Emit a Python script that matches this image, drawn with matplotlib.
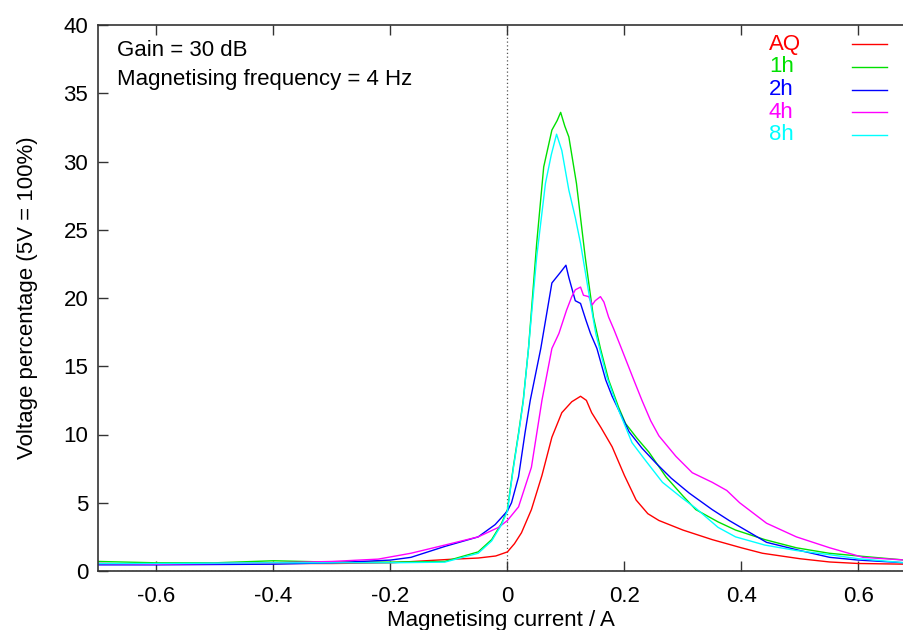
import matplotlib.pyplot as plt

# (magnetising current in A, voltage in %)
aq_x = [-0.70, -0.6, -0.4, -0.3, -0.2, -0.1, -0.05, -0.02, 0.0, 0.012, 0.024, 0.041,
        0.059, 0.076, 0.093, 0.11, 0.125, 0.135, 0.144, 0.16, 0.179, 0.2, 0.22, 0.24,
        0.259, 0.3, 0.35, 0.4, 0.436, 0.5, 0.551, 0.6, 0.68]
aq_y = [0.55, 0.5, 0.55, 0.55, 0.6, 0.85, 0.95, 1.1, 1.4, 2.0, 2.8, 4.5,
        7.0, 9.8, 11.6, 12.4, 12.8, 12.5, 11.6, 10.5, 9.1, 7.0, 5.2, 4.2,
        3.7, 3.0, 2.3, 1.7, 1.3, 0.9, 0.66, 0.55, 0.5]

h1_x = [-0.7, -0.6, -0.5, -0.4, -0.3, -0.2, -0.107, -0.05, -0.027, -0.01, 0.0, 0.01,
        0.019, 0.027, 0.036, 0.05, 0.062, 0.076, 0.085, 0.091, 0.098, 0.105, 0.118,
        0.133, 0.147, 0.159, 0.173, 0.19, 0.202, 0.222, 0.242, 0.271, 0.3, 0.322,
        0.36, 0.39, 0.44, 0.494, 0.55, 0.6, 0.68]
h1_y = [0.7, 0.6, 0.6, 0.75, 0.65, 0.65, 0.7, 1.4, 2.3, 3.5, 4.5, 7.6,
        10.1, 12.5, 16.3, 24.0, 29.6, 32.3, 33.0, 33.6, 32.6, 31.8, 28.4,
        23.0, 18.6, 16.3, 14.0, 12.0, 10.8, 9.7, 8.7, 6.9, 5.5, 4.5,
        3.6, 3.0, 2.3, 1.7, 1.3, 1.1, 0.8]

h2_x = [-0.7, -0.6, -0.4, -0.3, -0.2, -0.165, -0.107, -0.05, -0.021, 0.0, 0.007, 0.019,
        0.03, 0.039, 0.057, 0.076, 0.091, 0.1, 0.105, 0.116, 0.125, 0.134, 0.142,
        0.153, 0.168, 0.179, 0.208, 0.23, 0.254, 0.28, 0.311, 0.35, 0.379, 0.443,
        0.5, 0.551, 0.6, 0.68]
h2_y = [0.45, 0.45, 0.5, 0.6, 0.8, 1.0, 1.8, 2.5, 3.4, 4.4, 5.0, 6.9,
        10.1, 12.5, 16.3, 21.1, 21.9, 22.4, 21.5, 19.8, 19.6, 18.4, 17.4,
        16.3, 14.0, 12.8, 10.2, 9.0, 7.9, 6.8, 5.7, 4.5, 3.7, 2.1,
        1.5, 1.0, 0.8, 0.6]

h4_x = [-0.7, -0.6, -0.4, -0.3, -0.221, -0.165, -0.107, -0.05, -0.015, 0.0, 0.019, 0.041,
        0.059, 0.076, 0.088, 0.101, 0.11, 0.116, 0.125, 0.13, 0.139, 0.145, 0.15,
        0.159, 0.165, 0.173, 0.182, 0.194, 0.216, 0.23, 0.245, 0.259, 0.288, 0.316,
        0.35, 0.375, 0.397, 0.443, 0.494, 0.551, 0.608, 0.68]
h4_y = [0.55, 0.5, 0.6, 0.7, 0.87, 1.3, 1.9, 2.5, 3.2, 3.7, 4.7, 7.6,
        12.5, 16.3, 17.4, 19.1, 20.1, 20.6, 20.8, 20.2, 20.1, 19.5, 19.8,
        20.1, 19.7, 18.6, 17.7, 16.4, 14.0, 12.5, 11.0, 9.9, 8.4, 7.2,
        6.5, 5.9, 5.0, 3.5, 2.5, 1.7, 1.0, 0.8]

h8_x = [-0.7, -0.6, -0.4, -0.2, -0.107, -0.05, -0.027, -0.01, 0.0, 0.01, 0.019, 0.027,
        0.036, 0.05, 0.065, 0.075, 0.084, 0.093, 0.105, 0.116, 0.125, 0.139, 0.151,
        0.17, 0.19, 0.213, 0.236, 0.265, 0.3, 0.322, 0.36, 0.39, 0.44, 0.494,
        0.55, 0.6, 0.68]
h8_y = [0.55, 0.55, 0.6, 0.6, 0.65, 1.3, 2.2, 3.4, 4.4, 7.5, 10.0, 12.4,
        16.3, 23.0, 28.4, 30.5, 32.0, 30.8, 27.9, 25.9, 24.0, 20.4, 17.4,
        14.2, 11.8, 9.4, 8.1, 6.5, 5.3, 4.6, 3.2, 2.5, 1.9, 1.5,
        1.2, 0.9, 0.6]

labels = ["AQ", "1h", "2h", "4h", "8h"]
colors = ["#ff0000", "#00e000", "#0000ff", "#ff00ff", "#00ffff"]

plt.rcParams["font.family"] = ["Liberation Sans", "DejaVu Sans"]
fs = 16

fig = plt.figure(figsize=(9.04, 6.30), dpi=100)
ax = fig.add_axes([98 / 904, 59 / 630, 806 / 904, 546 / 630])

series = [(aq_x, aq_y), (h1_x, h1_y), (h2_x, h2_y), (h4_x, h4_y), (h8_x, h8_y)]
for (xs, ys), col in zip(series, colors):
    ax.plot(xs, ys, color=col, lw=1.0)

# zero axes, gnuplot style
ax.axvline(0, color="#555555", lw=0.9, ls=(0, (1, 2)), zorder=0)
ax.axhline(0, color="#555555", lw=0.9, ls=(0, (1, 2)), zorder=0)

ax.set_xlim(-0.7, 0.678)
ax.set_ylim(0, 40)
ax.set_xticks([-0.6, -0.4, -0.2, 0, 0.2, 0.4, 0.6])
ax.set_xticklabels(["-0.6", "-0.4", "-0.2", "0", "0.2", "0.4", "0.6"])
ax.set_yticks(range(0, 41, 5))

ax.tick_params(direction="in", length=7, width=1, labelsize=fs, top=True,
               right=False, color="#333333")
ax.tick_params(axis="x", pad=11)
ax.tick_params(axis="y", pad=7)
for side in ["left", "bottom", "top"]:
    ax.spines[side].set_color("#333333")
    ax.spines[side].set_linewidth(1.2)
ax.spines["right"].set_visible(False)

ax.set_xlabel("Magnetising current / A", fontsize=fs, labelpad=2)
ax.set_ylabel("Voltage percentage (5V = 100%)", fontsize=fs, labelpad=18)

ax.text(0.024, 0.954, "Gain = 30 dB", transform=ax.transAxes, fontsize=fs, va="center")
ax.text(0.024, 0.901, "Magnetising frequency = 4 Hz", transform=ax.transAxes,
        fontsize=fs, va="center")

# gnuplot-style key: left-aligned coloured labels, short sample lines on the right
for i, (lab, col) in enumerate(zip(labels, colors)):
    ky = 0.965 - i * 0.0416
    ax.text(0.8325, ky, lab, transform=ax.transAxes, color=col, fontsize=fs,
            va="center", ha="left")
    ax.plot([0.9355, 0.979], [ky, ky], transform=ax.transAxes, color=col, lw=1.0)

fig.savefig("out.png", dpi=100)
